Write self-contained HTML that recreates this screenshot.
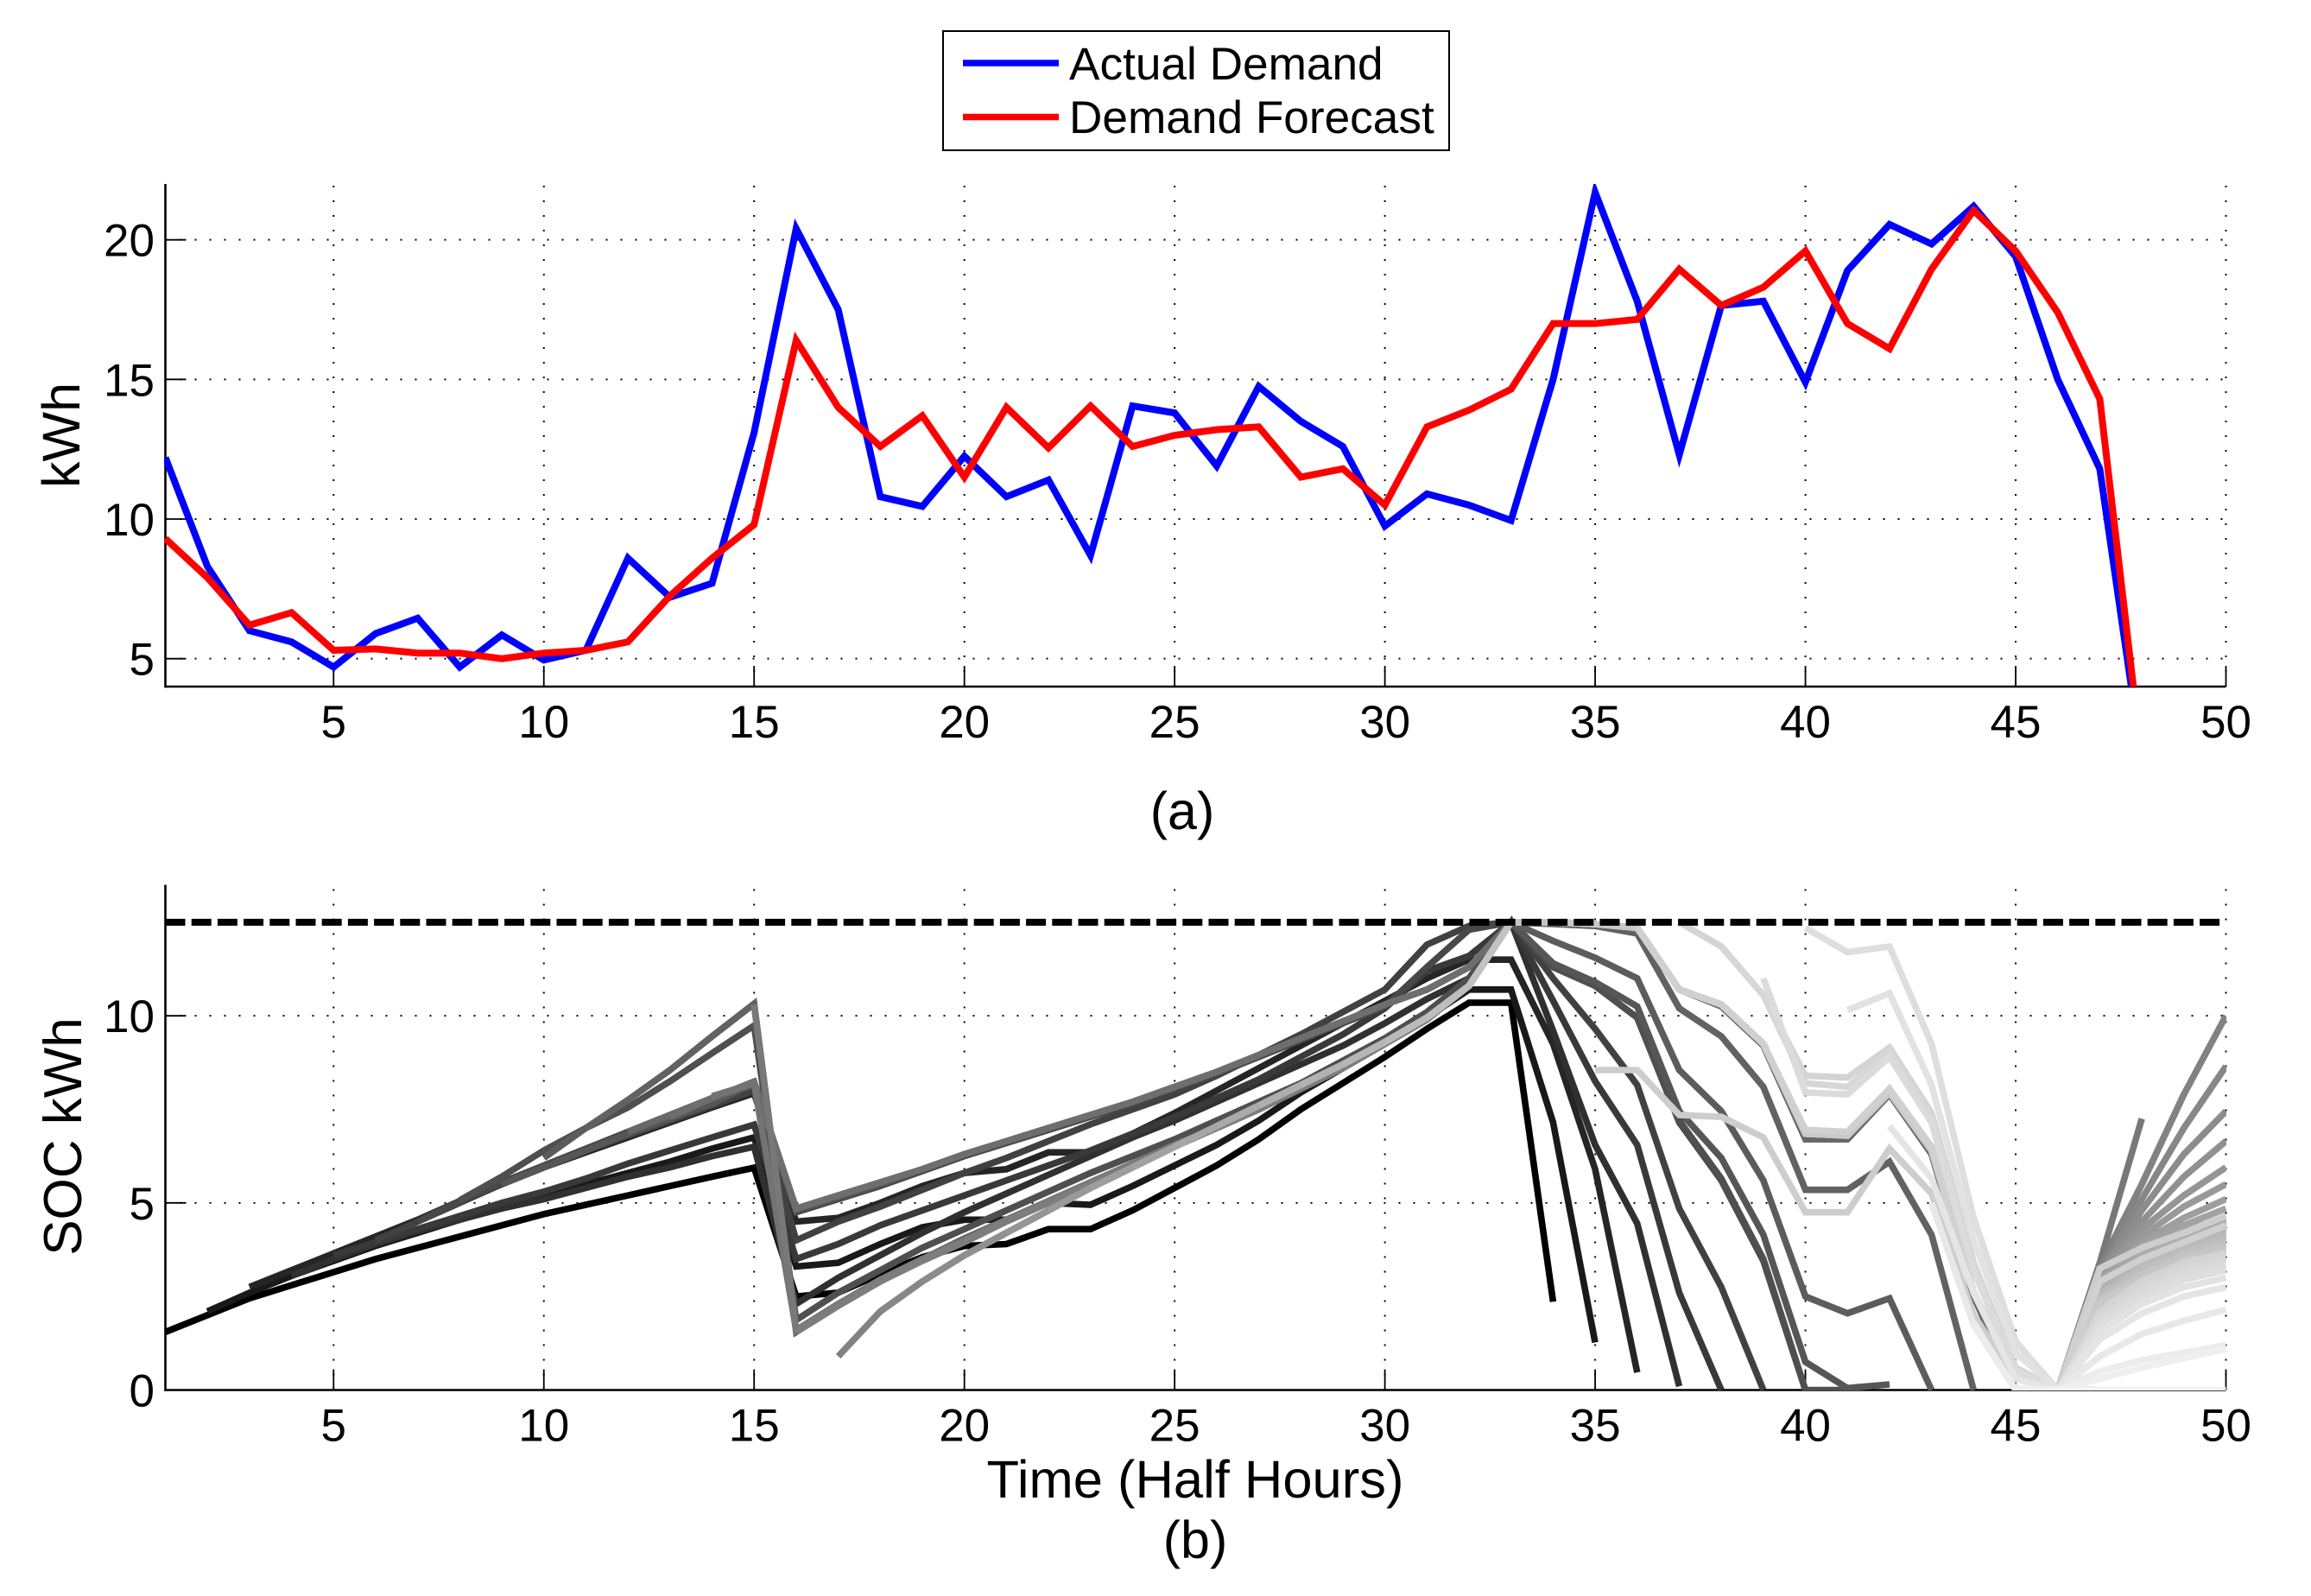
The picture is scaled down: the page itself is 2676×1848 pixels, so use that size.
<!DOCTYPE html>
<html lang="en">
<head>
<meta charset="utf-8">
<title>Demand and SOC chart</title>
<style>
html,body{margin:0;padding:0;background:#fff;}
svg{display:block;}
text{font-family:"Liberation Sans",Arial,Helvetica,sans-serif;fill:#000;}
</style>
</head>
<body>
<svg id="figure" xmlns="http://www.w3.org/2000/svg" width="2676" height="1848" viewBox="0 0 2676 1848">
  <defs>
    <clipPath id="clip-a"><rect x="190" y="213" width="2388" height="582"/></clipPath>
    <clipPath id="clip-b"><rect x="190" y="1024" width="2388" height="586"/></clipPath>
  </defs>
  <rect x="0" y="0" width="2676" height="1848" fill="#fff"/>
  <g id="panel-a"></g>
  <g id="panel-b"></g>
  <g>
    <rect x="1092" y="36" width="586" height="138" fill="#fff" stroke="#000" stroke-width="2"/>
    <line x1="1115" y1="73" x2="1226" y2="73" stroke="#0000ff" stroke-width="7.5"/>
    <text x="1238" y="92" font-size="53.2">Actual Demand</text>
    <line x1="1115" y1="135.5" x2="1226" y2="135.5" stroke="#ff0000" stroke-width="7.5"/>
    <text x="1238" y="154" font-size="53.2">Demand Forecast</text>
  </g>
  <text transform="translate(92,504) rotate(-90)" text-anchor="middle" font-size="61">kWh</text>
  <text transform="translate(94,1316) rotate(-90)" text-anchor="middle" font-size="62">SOC kWh</text>
  <text x="1369" y="960" text-anchor="middle" font-size="61">(a)</text>
  <text x="1384" y="1734" text-anchor="middle" font-size="61.5">Time (Half Hours)</text>
  <text x="1384" y="1804" text-anchor="middle" font-size="61">(b)</text>
</svg>
<script>
// Shared tick labels
const xTicks = [5,10,15,20,25,30,35,40,45,50];
const demandYTicks = [5,10,15,20];
const socYTicks = [0,5,10];
const socCapacity = [12.5];

// Panel (a) series: half hours 1..48
const actualDemand = [12.2,8.3,6.0,5.6,4.7,5.9,6.45,4.7,5.85,4.95,5.3,8.6,7.2,7.7,13.1,20.4,17.5,10.8,10.45,12.25,10.8,11.4,8.7,14.05,13.8,11.9,14.75,13.5,12.6,9.75,10.9,10.5,9.95,15.0,21.7,17.8,12.3,17.65,17.8,14.9,18.9,20.55,19.85,21.2,19.4,15.0,11.8,1.4];
const demandForecast = [9.3,7.9,6.2,6.65,5.3,5.35,5.2,5.2,5.0,5.2,5.3,5.6,7.25,8.6,9.8,16.4,14.0,12.6,13.7,11.5,14.0,12.55,14.05,12.6,13.0,13.2,13.3,11.5,11.8,10.5,13.3,13.9,14.65,17.0,17.0,17.15,18.95,17.65,18.3,19.6,17.0,16.1,18.95,21.05,19.6,17.4,14.3,1.4];

// Panel (b): each run k begins at half hour k
const sharedClimb = [2.1,2.9,3.6,4.2,4.8,5.4,5.95,6.5,7.05,7.6,8.15,8.7,9.3,9.95,10.8,12.5];
const sharedDescent = [12.5,12.45,12.35,10.7,10.3,9.25,6.85,6.8,7.95,6.4,2.6,0.4,0];
const soc01 = [1.55,2.0,2.45,2.8,3.15,3.5,3.8,4.1,4.4,4.7,4.95,5.2,5.45,5.7,5.94,2.5,2.6,3.1,3.55,3.85,3.9,4.3,4.3,4.8,5.4,6.0,6.7,7.5,8.2,8.9,9.65,10.35,10.35,2.36];
const soc02 = [2.1,2.6,3.05,3.45,3.85,4.2,4.55,4.9,5.2,5.5,5.8,6.1,6.45,6.75,3.3,3.4,3.9,4.35,4.55,4.55,5.0,4.95,5.45,6.0,6.55,7.2,7.95,8.6,9.3,9.95,10.7,10.7,7.15,1.27];
const soc03 = [2.75,3.2,3.65,4.1,4.55,5.05,5.5,5.95,6.35,6.75,7.15,7.55,7.93,4.5,4.6,5.0,5.45,5.8,5.9,6.35,6.35,6.85,7.4,8.0,8.6,9.2,9.8,10.4,11.0,11.5,11.5,9.25,5.9,0.47];
const soc04 = [3.05,3.5,3.9,4.25,4.55,4.85,5.1,5.4,5.7,5.95,6.25,6.5,2.3,3.0,3.6,4.2,4.75,5.25,5.75,6.25,6.75,7.2,7.7,8.2,8.7,9.2,9.8,10.45,11.0,12.5,9.6,6.55,4.45,0.1];
const soc05 = [3.6,3.95,4.3,4.65,5.0,5.3,5.65,6.05,6.4,6.75,7.09,3.5,3.9,4.4,4.8,5.2,5.6,6.0,6.4,6.85,7.3,7.8,8.3,8.9,9.5,10.2,11.2,11.6,12.5,10.4,8.25,6.55,2.6,0];
const soc06 = [4.0,4.5,5.0,5.5,5.95,6.4,6.8,7.2,7.6,8.0,4.0,4.5,4.9,5.35,5.8,6.2,6.65,7.1,7.5,7.9,8.4,8.95,9.5,10.1,10.7,11.9,12.4,12.5,11.0,9.65,8.15,4.85,2.75,0];
const soc07 = [4.5,5.05,5.55,6.0,6.45,6.9,7.35,7.8,8.15,4.75,5.1,5.45,5.85,6.25,6.6,6.95,7.3,7.65,8.05,8.45,8.9,9.35,9.8,10.25,11.3,12.3,12.5,11.3,10.8,9.95,7.15,5.6,3.45,0];
const soc08 = [5.07,5.7,6.4,7.0,7.55,8.25,9.0,9.74,1.87,2.6,3.2,3.8,4.3,4.8,5.3,5.8,6.25,6.7,7.2,7.7,8.2,8.8,9.4,10.1,11.0,12.5,11.3,10.8,9.95,7.2,5.65,3.5,0,0];
const soc09 = [5.5,5.95,6.4,6.85,7.25,7.65,8.2,4.8,5.15,5.5,5.9,6.3,6.65,7.0,7.35,7.7,8.1,8.5,8.95,9.4,9.85,10.3,10.7,11.3,12.5,11.4,10.9,10.25,7.45,6.2,4.15,0.75,0.05,0.15];
const soc10 = [6.2,7.0,7.75,8.55,9.45,10.32,1.55,2.25,2.9,3.5,4.0,4.55,5.05,5.55,6.05,6.55,7.0,7.5,8.05,8.6,9.25,9.9,10.8,12.5,12.0,11.55,11.0,8.55,7.45,5.6,2.5,2.05,2.45,0];
const soc11 = [7.0,7.75,8.55,9.45,10.32,1.6,2.3,2.9,3.5,4.05,4.55,5.05,5.55,6.05,6.55,7.0,7.5,8.05,8.6,9.25,9.9,10.8,12.5,12.45,12.4,12.2,10.2,9.45,8.1,5.35,5.35,6.1,4.15,0];
const soc12 = [6.9,7.35,7.8,8.24,4.85,5.2,5.55,5.9,6.3,6.65,7.0,7.35,7.7,8.1,8.5,8.95,9.4,9.85,10.3,10.7,11.3,12.5,12.5,12.45,12.35,10.7,10.25,9.2,6.7,6.7,7.9,6.3,2.5,0];
const soc13 = [7.3,7.8,8.2,4.85,5.2,5.55,5.9,6.3,6.65,7.0,7.35,7.7,8.1,8.5,8.95,9.4,9.85,10.3,10.7,11.3,12.5,...sharedDescent];
const soc14 = [7.85,8.2,1.6,2.3,2.95,3.5,4.0,4.55,5.05,5.55,6.05,6.55,7.0,7.5,8.05,8.6,9.25,9.9,10.8,12.5,...sharedDescent,0];
const soc15 = [10.3,1.6,2.3,2.95,3.5,4.0,4.55,5.05,5.55,6.05,6.55,7.0,7.5,8.05,8.6,9.25,9.9,10.8,12.5,...sharedDescent,3.4,7.25];
const soc16 = [1.55,2.25,2.9,3.45,3.95,4.5,5.0,5.5,6.0,6.5,7.0,7.5,8.05,8.6,9.25,9.9,10.8,12.5,...sharedDescent,3.3,5.5,7.9];
const soc17 = [0.9,...sharedClimb,...sharedDescent,3.2,5.5,7.9,10];
const soc18 = [...sharedClimb,...sharedDescent,3.1,5.1,7.0,8.65];
const soc19 = [...sharedClimb.slice(1),...sharedDescent,3.1,4.8,6.3,7.45];
const soc20 = [...sharedClimb.slice(2),...sharedDescent,3.1,4.5,5.7,6.65];
const soc21 = [...sharedClimb.slice(3),...sharedDescent,3.05,4.3,5.2,5.95];
const soc22 = [...sharedClimb.slice(4),...sharedDescent,3.0,4.1,4.9,5.5];
const soc23 = [...sharedClimb.slice(5),...sharedDescent,2.95,3.95,4.6,5.1];
const soc24 = [...sharedClimb.slice(6),...sharedDescent,2.9,3.85,4.4,4.85];
const soc25 = [...sharedClimb.slice(7),...sharedDescent,2.85,3.75,4.25,4.6];
const soc26 = [...sharedClimb.slice(8),...sharedDescent,2.75,3.65,4.15,4.5];
const soc27 = [...sharedClimb.slice(9),...sharedDescent,2.7,3.55,4.05,4.4];
const soc28 = [...sharedClimb.slice(10),...sharedDescent,2.6,3.45,3.95,4.3];
const soc29 = [...sharedClimb.slice(11),...sharedDescent,2.55,3.35,3.9,4.2];
const soc30 = [...sharedClimb.slice(12),...sharedDescent,2.5,3.3,3.8,4.1];
const soc31 = [...sharedClimb.slice(13),...sharedDescent,2.45,3.2,3.7,4.0];
const soc32 = [...sharedClimb.slice(14),...sharedDescent,2.4,3.1,3.6,3.9];
const soc33 = [...sharedClimb.slice(15),...sharedDescent,2.35,3.05,3.55,3.8];
const soc34 = [...sharedDescent,2.3,2.95,3.45,3.7];
const soc35 = [8.55,8.55,7.35,7.3,6.75,4.75,4.75,6.45,5.25,2.0,0.3,0,3.25,3.8,4.2,4.65];
const soc36 = [12.35,10.7,10.3,9.25,6.95,6.9,8.05,6.5,2.6,0.4,0,2.9,3.5,3.95,4.4];
const soc37 = [12.5,11.85,10.55,8.4,8.35,9.15,7.4,3.4,0.6,0,2.1,2.9,3.4,3.65];
const soc38 = [11.85,10.55,8.2,8.1,9.0,7.3,3.3,0.55,0,1.95,2.75,3.25,3.5];
const soc39 = [11.0,7.95,7.9,8.9,7.15,3.2,0.5,0,1.85,2.6,3.1,3.35];
const soc40 = [12.35,11.7,11.85,9.25,4.6,1.3,0,1.7,2.45,2.95,3.2];
const soc41 = [10.15,10.6,8.15,4.0,1.0,0,1.55,2.3,2.75,3.0];
const soc42 = [7.05,5.65,2.6,0.3,0,1.35,2.05,2.5,2.75];
const soc43 = [5.0,1.75,0,0,0.9,1.5,1.85,2.15];
const soc44 = [1.8,0,0,0.5,0.8,1.0,1.2];
const soc45 = [0.05,0,0.3,0.6,0.85,1.1];
const soc46 = [0,0,0,0,0];
const socRuns = [soc01,soc02,soc03,soc04,soc05,soc06,soc07,soc08,soc09,soc10,soc11,soc12,soc13,soc14,soc15,soc16,soc17,soc18,soc19,soc20,soc21,soc22,soc23,soc24,soc25,soc26,soc27,soc28,soc29,soc30,soc31,soc32,soc33,soc34,soc35,soc36,soc37,soc38,soc39,soc40,soc41,soc42,soc43,soc44,soc45,soc46];

const SVGNS = 'http://www.w3.org/2000/svg';
const xLeft = 191.5, xRight = 2577.5;
function xScale(v){ return xLeft + (v - 1) * (xRight - xLeft) / 49; }
function yScaleA(v){ return 795 - (v - 4) * (795 - 213) / 18; }
function yScaleB(v){ return 1609.5 - v * (1609.5 - 1024.5) / 13.5; }
function make(parent, tag, props, text){
  const el = document.createElementNS(SVGNS, tag);
  for (const key in props) el.setAttribute(key, props[key]);
  if (text !== undefined) el.textContent = text;
  parent.appendChild(el);
  return el;
}
function polyPoints(values, startX, yFn){
  return values.map(function(v, i){ return xScale(startX + i).toFixed(2) + ',' + yFn(v).toFixed(2); }).join(' ');
}
function drawAxes(parent, yFn, yTicks, yTop, yBottom, prefix){
  const gridStyle = {stroke:'#000','stroke-width':2,'stroke-dasharray':'2 15',fill:'none'};
  xTicks.forEach(function(t){
    const grid = make(parent, 'line', Object.assign({x1:xScale(t),x2:xScale(t),y1:yBottom,y2:yTop}, gridStyle));
    
    
    const tick = make(parent, 'line', {x1:xScale(t),x2:xScale(t),y1:yBottom,y2:yBottom-24,stroke:'#000','stroke-width':1.8});
    
    
    const label = make(parent, 'text', {x:xScale(t),y:yBottom+59,'text-anchor':'middle','font-size':53}, String(t));
    
    
  });
  yTicks.forEach(function(t){
    const y = yFn(t);
    if (y < yBottom - 1) {
      const grid = make(parent, 'line', Object.assign({x1:xLeft,x2:xRight,y1:y,y2:y}, gridStyle));
      
      
      const tick = make(parent, 'line', {x1:xLeft,x2:xLeft+24,y1:y,y2:y,stroke:'#000','stroke-width':1.8});
      
      
    }
    const label = make(parent, 'text', {x:179,y:y+19,'text-anchor':'end','font-size':53}, String(t));
    
    
  });
  const yAxis = make(parent, 'line', {x1:xLeft,x2:xLeft,y1:yTop,y2:yBottom+1.2,stroke:'#000','stroke-width':2.6});
  
  
  const xAxis = make(parent, 'line', {x1:xLeft-1.2,x2:xRight,y1:yBottom,y2:yBottom,stroke:'#000','stroke-width':2.6});
  
  
}

const panelA = document.getElementById('panel-a');
drawAxes(panelA, yScaleA, demandYTicks, 213, 795, 'demand');
const actualLine = make(panelA, 'polyline', {points:polyPoints(actualDemand,1,yScaleA),fill:'none',stroke:'#0000ff','stroke-width':8,'stroke-linejoin':'miter','stroke-miterlimit':6,'clip-path':'url(#clip-a)'});


const forecastLine = make(panelA, 'polyline', {points:polyPoints(demandForecast,1,yScaleA),fill:'none',stroke:'#ff0000','stroke-width':8,'stroke-linejoin':'miter','stroke-miterlimit':6,'clip-path':'url(#clip-a)'});



const panelB = document.getElementById('panel-b');
drawAxes(panelB, yScaleB, socYTicks, 1024.5, 1609.5, 'soc');
socRuns.forEach(function(run, i){
  const level = Math.round(255 * Math.pow(i / 49, 0.6));
  const line = make(panelB, 'polyline', {points:polyPoints(run,i+1,yScaleB),fill:'none',stroke:'rgb('+level+','+level+','+level+')','stroke-width':7.6,'stroke-linejoin':'miter','stroke-miterlimit':6,'clip-path':'url(#clip-b)'});
  
  
});
const capacityLine = make(panelB, 'line', {x1:xLeft,x2:xRight-2,y1:yScaleB(socCapacity[0]),y2:yScaleB(socCapacity[0]),stroke:'#000','stroke-width':8,'stroke-dasharray':'23 7.2'});


</script>
</body>
</html>
